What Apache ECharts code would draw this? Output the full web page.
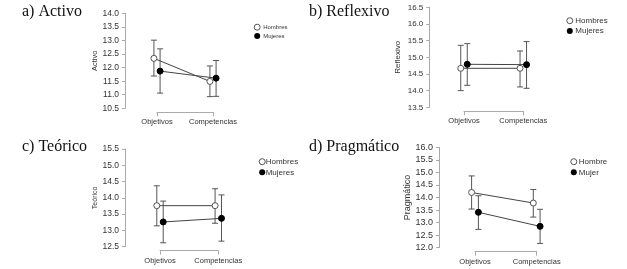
<!DOCTYPE html>
<html>
<head>
<meta charset="utf-8">
<script src="https://cdn.jsdelivr.net/npm/echarts@6/dist/echarts.min.js"></script>
<style>
  html, body { margin: 0; padding: 0; background: #fff; }
  #chart { width: 627px; height: 269px; }
</style>
</head>
<body>
<div id="chart"></div>
<script>
const categories = ["Objetivos", "Competencias"];

// [media, límite inferior, límite superior] para Objetivos y Competencias
const activoHombres = [[12.34, 11.69, 13.01], [11.49, 10.93, 12.06]];
const activoMujeres = [[11.87, 11.06, 12.69], [11.61, 10.94, 12.26]];
const reflexivoHombres = [[14.67, 14.0, 15.36], [14.67, 14.11, 15.19]];
const reflexivoMujeres = [[14.79, 14.16, 15.41], [14.78, 14.07, 15.47]];
const teoricoHombres = [[13.76, 13.14, 14.37], [13.76, 13.22, 14.28]];
const teoricoMujeres = [[13.26, 12.62, 13.9], [13.37, 12.67, 14.09]];
const pragmaticoHombres = [[14.2, 13.54, 14.86], [13.78, 13.22, 14.32]];
const pragmaticoMujeres = [[13.41, 12.73, 14.07], [12.85, 12.17, 13.53]];

// eje y: [mínimo, máximo, intervalo]
const activoTicks = [10.5, 14.0, 0.5];
const reflexivoTicks = [13.5, 16.5, 0.5];
const teoricoTicks = [12.5, 15.5, 0.5];
const pragmaticoTicks = [12.0, 16.0, 0.5];

const panels = [
  {
    title: "a) Activo", yName: "Activo", names: ["Hombres", "Mujeres"],
    h: activoHombres, m: activoMujeres, ticks: activoTicks,
    grid: { left: 157, top: 13.3, width: 56, height: 95 },
    yOffset: 32, nameGap: 26, titleAt: [22, 4], tickFont: 8.5, nameFont: 7.5,
    legendAt: [253.7, 23.7], legendFont: 6, legendGap: 2.3, legendPad: -2
  },
  {
    title: "b) Reflexivo", yName: "Reflexivo", names: ["Hombres", "Mujeres"],
    h: reflexivoHombres, m: reflexivoMujeres, ticks: reflexivoTicks,
    grid: { left: 464, top: 7.3, width: 59.3, height: 100 },
    yOffset: 34.7, nameGap: 28, titleAt: [309, 3.5], tickFont: 8, nameFont: 8,
    legendAt: [566.3, 16.7], legendFont: 8, legendGap: 2.3, legendPad: -2.5
  },
  {
    title: "c) Teórico", yName: "Teórico", names: ["Hombres", "Mujeres"],
    h: teoricoHombres, m: teoricoMujeres, ticks: teoricoTicks,
    grid: { left: 160, top: 149, width: 58.3, height: 97.7 },
    yOffset: 35, nameGap: 25, titleAt: [22, 139], tickFont: 8.5, nameFont: 7,
    legendAt: [258.7, 157.7], legendFont: 8, legendGap: 2.6, legendPad: -4.5
  },
  {
    title: "d) Pragmático", yName: "Pragmático", names: ["Hombre", "Mujer"],
    h: pragmaticoHombres, m: pragmaticoMujeres, ticks: pragmaticoTicks,
    grid: { left: 475, top: 147.3, width: 61.7, height: 100.4 },
    yOffset: 36, nameGap: 27, titleAt: [309, 138.5], tickFont: 9, nameFont: 9,
    legendAt: [570.3, 157.7], legendFont: 8, legendGap: 2.6, legendPad: -3
  }
];

const dodge = 0.055;
const axisGray = "#aaa";
const textGray = "#333";

function pointsOf(rows, shift) {
  return rows.map((r, k) => [k + shift, r[0]]);
}
function barsOf(rows, shift) {
  return rows.map((r, k) => [k + shift, r[1], r[2]]);
}

function renderBar(params, api) {
  const x = api.value(0);
  const top = api.coord([x, api.value(2)]);
  const bot = api.coord([x, api.value(1)]);
  const cap = 3;
  const style = { stroke: "#555", lineWidth: 1 };
  return {
    type: "group",
    children: [
      { type: "line", shape: { x1: top[0], y1: top[1], x2: bot[0], y2: bot[1] }, style: style },
      { type: "line", shape: { x1: top[0] - cap, y1: top[1], x2: top[0] + cap, y2: top[1] }, style: style },
      { type: "line", shape: { x1: bot[0] - cap, y1: bot[1], x2: bot[0] + cap, y2: bot[1] }, style: style }
    ]
  };
}

const chart = echarts.init(document.getElementById("chart"));
const grid = [], xAxis = [], yAxis = [], title = [], legend = [], series = [];

panels.forEach((p, i) => {
  grid.push(p.grid);
  title.push({
    text: p.title, left: p.titleAt[0], top: p.titleAt[1], padding: 0,
    textStyle: { fontFamily: "Liberation Serif", fontSize: 16, fontWeight: "normal", color: "#111" }
  });
  xAxis.push({
    type: "value", gridIndex: i, min: 0, max: 1, interval: 1, offset: 4,
    axisLine: { show: true, onZero: false, lineStyle: { color: axisGray } },
    axisTick: { show: true, length: 4, lineStyle: { color: axisGray } },
    axisLabel: {
      margin: 6, fontSize: 7.5, color: textGray,
      formatter: (v) => categories[Math.round(v)]
    },
    splitLine: { show: false }
  });
  yAxis.push({
    type: "value", gridIndex: i,
    min: p.ticks[0], max: p.ticks[1], interval: p.ticks[2], offset: p.yOffset,
    name: p.yName, nameLocation: "middle", nameGap: p.nameGap,
    nameTextStyle: { fontSize: p.nameFont, color: textGray },
    axisLine: { show: true, onZero: false, lineStyle: { color: axisGray } },
    axisTick: { show: true, length: 3, lineStyle: { color: axisGray } },
    axisLabel: { margin: 6, fontSize: p.tickFont, color: textGray, formatter: (v) => v.toFixed(1) },
    splitLine: { show: false }
  });
  legend.push({
    orient: "vertical", left: p.legendAt[0], top: p.legendAt[1], padding: 0,
    icon: "circle", itemWidth: 6, itemHeight: 6, itemGap: p.legendGap,
    selectedMode: false,
    textStyle: {
      fontSize: p.legendFont, lineHeight: Math.max(6, p.legendFont), color: textGray,
      padding: [0, 0, 0, p.legendPad]
    },
    data: [
      { name: p.names[0], itemStyle: { color: "#fff", borderColor: "#555", borderWidth: 1 } },
      { name: p.names[1], itemStyle: { color: "#000", borderWidth: 0 } }
    ]
  });

  [[p.h, -dodge, p.names[0], "#fff", "#555"], [p.m, dodge, p.names[1], "#000", "#000"]].forEach((g) => {
    series.push({
      type: "custom", xAxisIndex: i, yAxisIndex: i, z: 1,
      renderItem: renderBar, encode: { x: 0, y: [1, 2] },
      data: barsOf(g[0], g[1]), silent: true
    });
    series.push({
      type: "line", name: g[2], xAxisIndex: i, yAxisIndex: i, z: 3, clip: false,
      symbol: "circle", symbolSize: 6, showSymbol: true,
      lineStyle: { color: "#444", width: 1 },
      itemStyle: { color: g[3], borderColor: g[4], borderWidth: 1 },
      data: pointsOf(g[0], g[1])
    });
  });
});

chart.setOption({
  animation: false,
  backgroundColor: "#fff",
  textStyle: { fontFamily: "Liberation Sans" },
  title: title,
  legend: legend,
  grid: grid,
  xAxis: xAxis,
  yAxis: yAxis,
  series: series
});
</script>
</body>
</html>
